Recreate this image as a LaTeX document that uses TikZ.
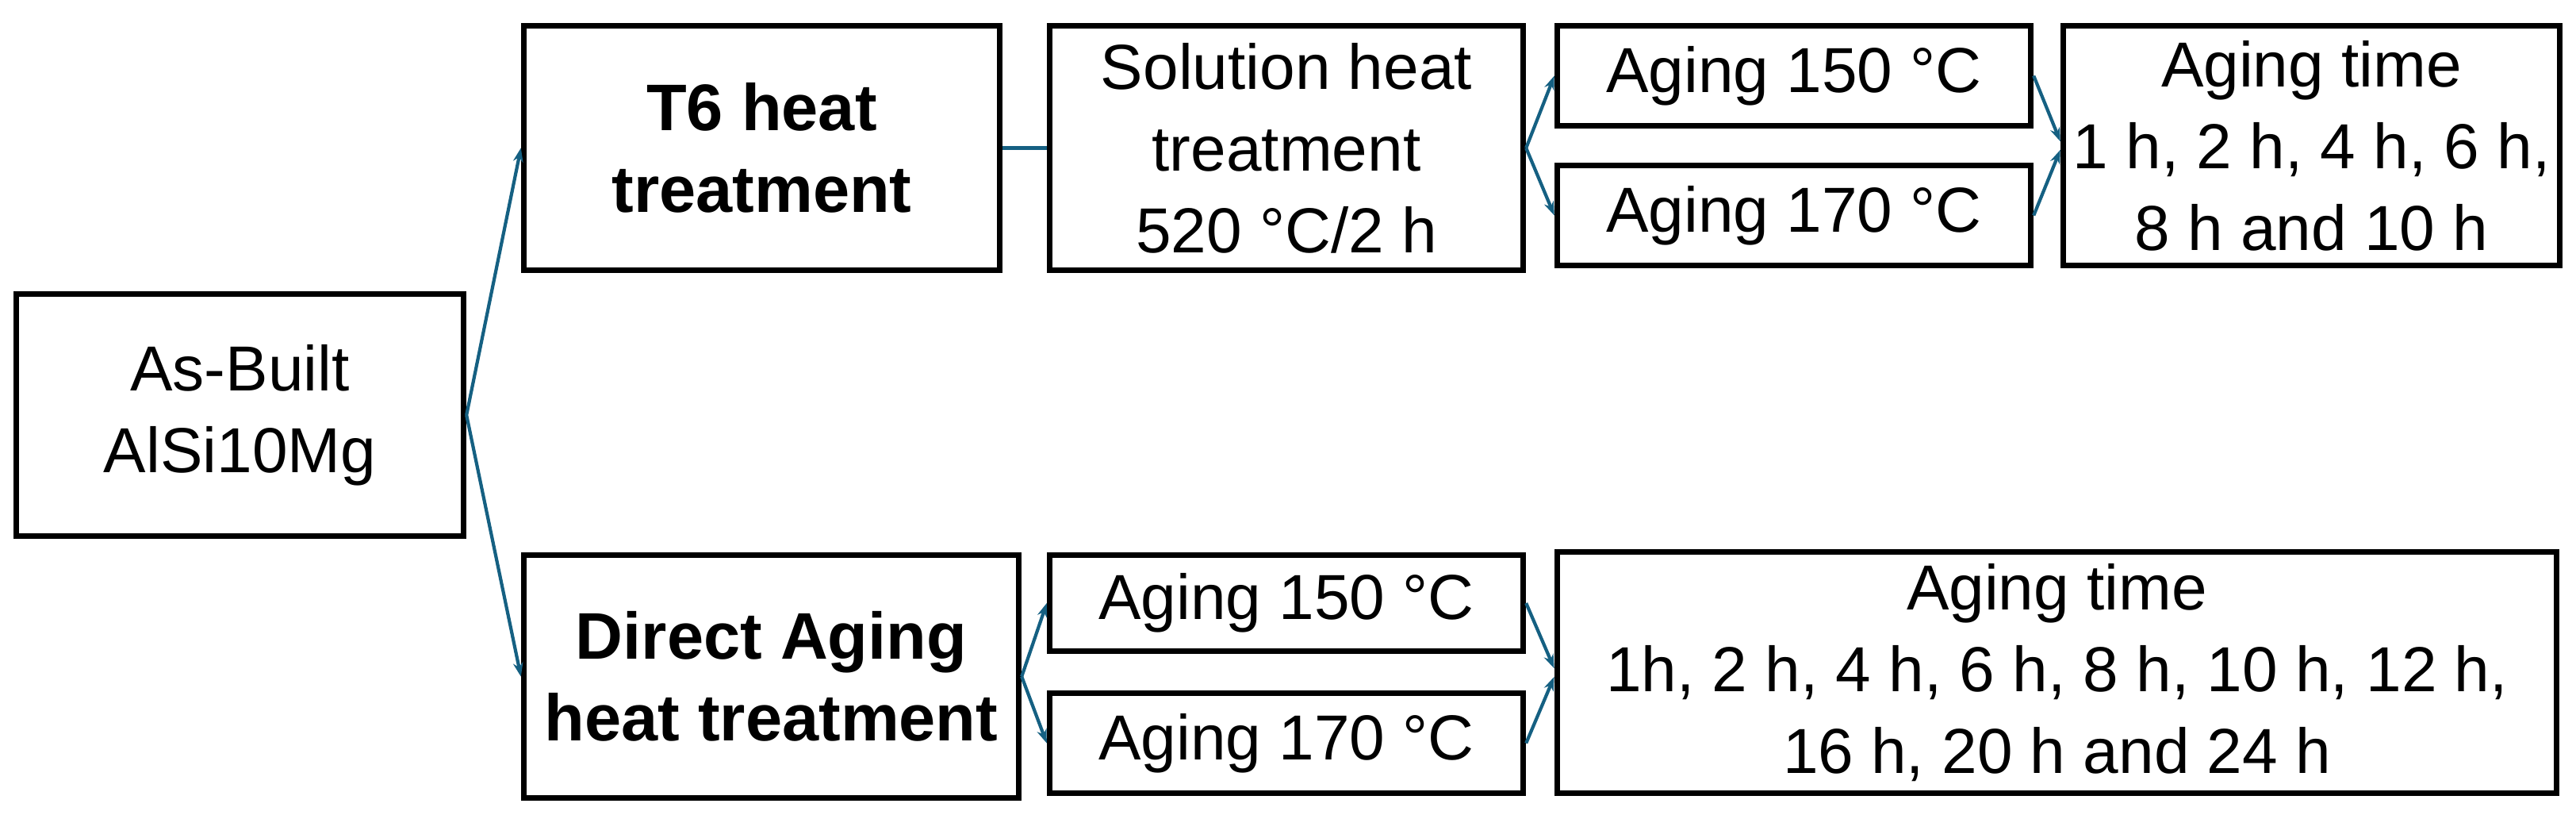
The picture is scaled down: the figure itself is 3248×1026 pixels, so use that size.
\documentclass[tikz,border=0pt]{standalone}
\usepackage{fontspec}
\setmainfont{Liberation Sans}
\usetikzlibrary{arrows.meta}
\definecolor{conn}{RGB}{21,96,130}
\begin{document}
\begin{tikzpicture}[x=0.01cm,y=-0.01cm,
  box/.style={draw=black,line width=2pt,rectangle,inner sep=0pt,align=center,
    font=\fontsize{22.8pt}{29.3pt}\selectfont},
  bbox/.style={box,font=\fontsize{23.6pt}{29.3pt}\selectfont\bfseries},
  link/.style={draw=conn,line width=1.2pt},
  arr/.style={link,-{Stealth[length=5pt,width=3.6pt]}}]
\useasboundingbox (0,0) rectangle (3248,1026);
\node[box,minimum width=5.64cm,minimum height=3.05cm] (asb) at (302.5,523) {As-Built\\AlSi10Mg};
\node[bbox,minimum width=6.00cm,minimum height=3.08cm] (t6) at (960.5,186.5) {T6 heat\\treatment};
\node[box,minimum width=5.97cm,minimum height=3.08cm] (sol) at (1622,186.5) {Solution heat\\treatment\\520 °C/2 h};
\node[box,minimum width=5.97cm,minimum height=1.26cm] (a150t) at (2262,95.5) {Aging 150 °C};
\node[box,minimum width=5.97cm,minimum height=1.26cm] (a170t) at (2262,271.5) {Aging 170 °C};
\node[box,minimum width=6.26cm,minimum height=3.02cm] (att) at (2914.5,183.5) {Aging time\\1 h, 2 h, 4 h, 6 h,\\8 h and 10 h};
\node[bbox,minimum width=6.24cm,minimum height=3.06cm] (da) at (972.5,852.5) {Direct Aging\\heat treatment};
\node[box,minimum width=5.97cm,minimum height=1.21cm] (a150b) at (1622,760) {Aging 150 °C};
\node[box,minimum width=5.97cm,minimum height=1.26cm] (a170b) at (1622,936.5) {Aging 170 °C};
\node[box,minimum width=12.60cm,minimum height=3.04cm] (atb) at (2593.5,847.5) {Aging time\\1h, 2 h, 4 h, 6 h, 8 h, 10 h, 12 h,\\16 h, 20 h and 24 h};
\draw[arr] (asb.east) -- (t6.west);
\draw[arr] (asb.east) -- (da.west);
\draw[link] (t6.east) -- (sol.west);
\draw[arr] (sol.east) -- (a150t.west);
\draw[arr] (sol.east) -- (a170t.west);
\draw[arr] (a150t.east) -- ([yshift=1.5pt]att.west);
\draw[arr] (a170t.east) -- ([yshift=-1.5pt]att.west);
\draw[arr] (da.east) -- (a150b.west);
\draw[arr] (da.east) -- (a170b.west);
\draw[arr] (a150b.east) -- ([yshift=1.5pt]atb.west);
\draw[arr] (a170b.east) -- ([yshift=-1.5pt]atb.west);
\end{tikzpicture}
\end{document}
